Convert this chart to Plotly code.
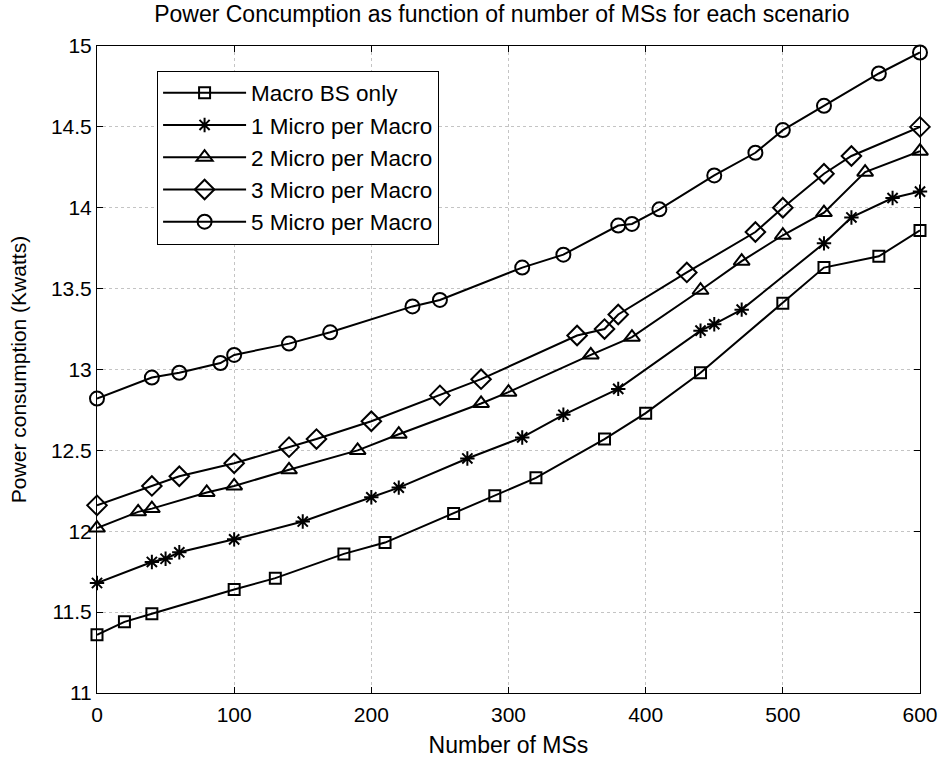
import plotly.graph_objects as go

# ---- data ----
x_macro = [0, 20, 40, 100, 130, 180, 210, 260, 290, 320, 370, 400, 440, 500, 530, 570, 600]
y_macro = [11.36, 11.44, 11.49, 11.64, 11.71, 11.86, 11.93, 12.11, 12.22, 12.33, 12.57, 12.73, 12.98, 13.41, 13.63, 13.70, 13.86]

x_m1 = [0, 40, 50, 60, 100, 150, 200, 220, 270, 310, 340, 380, 440, 450, 470, 530, 550, 580, 600]
y_m1 = [11.68, 11.81, 11.83, 11.87, 11.95, 12.06, 12.21, 12.27, 12.45, 12.58, 12.72, 12.88, 13.24, 13.28, 13.37, 13.78, 13.94, 14.06, 14.10]

x_m2 = [0, 30, 40, 80, 100, 140, 190, 220, 280, 300, 360, 390, 440, 470, 500, 530, 560, 600]
y_m2 = [12.02, 12.12, 12.14, 12.24, 12.28, 12.38, 12.50, 12.60, 12.79, 12.86, 13.09, 13.20, 13.49, 13.67, 13.83, 13.97, 14.22, 14.35]

x_m3 = [0, 40, 60, 100, 140, 160, 200, 250, 280, 350, 370, 380, 430, 480, 500, 530, 550, 600]
y_m3 = [12.16, 12.28, 12.34, 12.42, 12.52, 12.57, 12.68, 12.84, 12.94, 13.21, 13.25, 13.34, 13.60, 13.85, 14.00, 14.21, 14.32, 14.50]

x_m5 = [0, 40, 60, 90, 100, 140, 170, 230, 250, 310, 340, 380, 390, 410, 450, 480, 500, 530, 570, 600]
y_m5 = [12.82, 12.95, 12.98, 13.04, 13.09, 13.16, 13.23, 13.39, 13.43, 13.63, 13.71, 13.89, 13.90, 13.99, 14.20, 14.34, 14.48, 14.63, 14.83, 14.96]

names = ["Macro BS only", "1 Micro per Macro", "2 Micro per Macro",
         "3 Micro per Macro", "5 Micro per Macro"]
x_ticks = [0, 100, 200, 300, 400, 500, 600]
y_ticks = [11, 11.5, 12, 12.5, 13, 13.5, 14, 14.5, 15]
y_tick_text = ["11", "11.5", "12", "12.5", "13", "13.5", "14", "14.5", "15"]

series = [
    (x_macro, y_macro, "square-open", 11),
    (x_m1, y_m1, "asterisk-open", 12),
    (x_m2, y_m2, "triangle-up-open", 14),
    (x_m3, y_m3, "diamond-open", 15),
    (x_m5, y_m5, "circle-open", 14),
]

FONT = "Liberation Sans, Arial, Helvetica, sans-serif"

fig = go.Figure()
for (xs, ys, sym, sz), nm in zip(series, names):
    fig.add_trace(go.Scatter(
        x=xs, y=ys, name=nm, mode="lines+markers",
        line=dict(color="black", width=2),
        marker=dict(symbol=sym, size=sz, color="black",
                    line=dict(color="black", width=2)),
        cliponaxis=False,
    ))

axis_common = dict(
    showline=True, linecolor="black", linewidth=1, mirror="ticks",
    ticks="inside", ticklen=6, tickcolor="black",
    showgrid=True, gridcolor="#c4c4c4", griddash="dot", gridwidth=1,
    zeroline=False, automargin=False,
    tickfont=dict(size=21, color="black", family=FONT),
)

fig.update_layout(
    width=942, height=765,
    paper_bgcolor="white", plot_bgcolor="white",
    margin=dict(l=97, r=22, t=46, b=72),
    font=dict(family=FONT, color="black"),
    title=dict(text="Power Concumption as function of number of MSs for each scenario",
               xref="paper", x=0.492, xanchor="center", y=0.982, yanchor="middle",
               font=dict(size=23, color="black", family=FONT), automargin=False),
    xaxis=dict(range=[0, 600], tickvals=x_ticks, ticklabelstandoff=3,
               title=dict(text="Number of MSs", font=dict(size=23), standoff=11),
               **axis_common),
    yaxis=dict(range=[11, 15], tickvals=y_ticks, ticktext=y_tick_text,
               title=dict(text="Power consumption (Kwatts)", font=dict(size=21), standoff=18),
               **axis_common),
    legend=dict(x=0.073, y=0.962, xanchor="left", yanchor="top",
                bordercolor="black", borderwidth=1, bgcolor="white",
                font=dict(size=22.5, color="black", family=FONT),
                itemwidth=83, tracegroupgap=0),
    showlegend=True,
)

fig.write_html("out.html", config={"displayModeBar": False},
               post_script="document.body.style.margin='0';")
